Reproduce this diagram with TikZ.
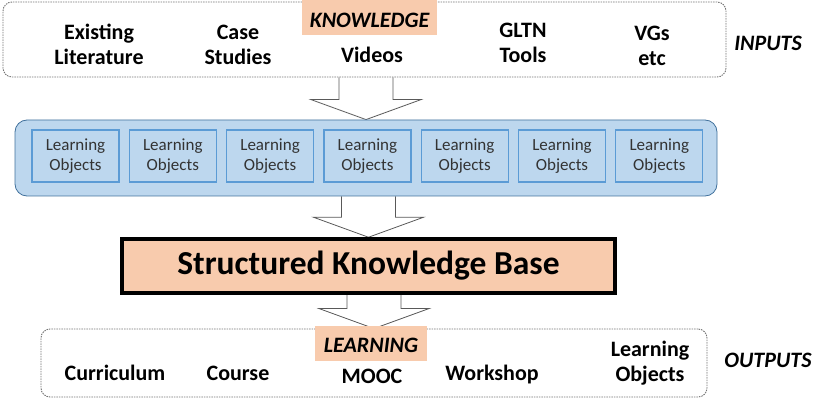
\documentclass[tikz,border=0pt]{standalone}
\usepackage{fontspec}
\setmainfont{Carlito}
\usepackage{tikz}
\usetikzlibrary{positioning, calc, backgrounds}
\definecolor{colorTag}{HTML}{F8CBAD}
\definecolor{colorPanel}{HTML}{BDD7EE}
\definecolor{colorPanelEdge}{HTML}{41719C}
\definecolor{colorObject}{HTML}{5B9BD5}
\definecolor{colorArrow}{HTML}{595959}
\tikzset{fat arrow/.style={draw=colorArrow, fill=white, line width=0.8pt}}
\newcommand{\fatarrow}[2]{%
  \begin{scope}[on background layer]
  \draw[fat arrow] ($(#2.north |- #1.south)+(-27,0)$) -- ($(#2.north)+(-27,-20)$) -- ($(#2.north)+(-55,-20)$) -- (#2.north) -- ($(#2.north)+(55,-20)$) -- ($(#2.north)+(27,-20)$) -- ($(#2.north |- #1.south)+(27,0)$);
  \end{scope}}

\begin{document}
\begin{tikzpicture}[x=1pt, y=-1pt,
  every node/.style={font=\fontsize{22}{25}\selectfont\bfseries, align=center},
  frame/.style={draw=black!55, line width=0.9pt, dash pattern=on 1.5pt off 1pt, rounded corners=9pt},
  tag/.style={fill=colorTag, font=\fontsize{22}{24}\selectfont\bfseries\itshape, inner sep=0pt, text depth=0pt},
  item/.style={anchor=base},
  sidelabel/.style={anchor=base, font=\fontsize{22}{25}\selectfont\bfseries\itshape},
  panel/.style={draw=colorPanelEdge, fill=colorPanel, line width=0.8pt, rounded corners=12pt},
  object/.style={draw=colorObject, fill=colorPanel, line width=1.3pt, minimum width=87, minimum height=52, inner sep=0pt, text=black!80, font=\fontsize{17}{20}\selectfont},
  kbase/.style={draw=black, fill=colorTag, line width=3.5pt, minimum width=493, minimum height=54, font=\fontsize{33.5}{38}\selectfont\bfseries}]
\useasboundingbox (0,0) rectangle (816,398);

% inputs
\node[frame, minimum width=723, minimum height=75] (inputs) at (364.5,39.5) {};
\node[tag, minimum width=135, minimum height=35, text height=19.5pt] (knowledge) at (369.5,17.5) {KNOWLEDGE};
\node[item] (literature) at (99,65) {Existing\\Literature};
\node[item] (cases) at (238,65) {Case\\Studies};
\node[item] (videos) at (372,63) {Videos};
\node[item] (gltn) at (523,63) {GLTN\\Tools};
\node[item] (vgs) at (652,66) {VGs\\etc};
\node[sidelabel] (in) at (768,51) {INPUTS};

% learning objects
\node[panel, minimum width=702, minimum height=76] (objects) at (366,158) {};
\node[object] (lo1) at (75.5,156) {Learning\\Objects};
\foreach \i [count=\j from 2] in {1,...,6}
  \node[object, right=9pt of lo\i] (lo\j) {Learning\\Objects};

% knowledge base
\node[kbase] (skb) at (368.5,266) {Structured Knowledge Base};

% outputs
\node[frame, minimum width=666, minimum height=68] (outputs) at (374,363) {};
\node[tag, minimum width=112, minimum height=35, text height=18pt] (learning) at (371,343.5) {LEARNING};
\node[item] (curriculum) at (115,380) {Curriculum};
\node[item] (course) at (238,380) {Course};
\node[item] (mooc) at (372,383) {MOOC};
\node[item] (workshop) at (492,380) {Workshop};
\node[item] (lobjects) at (650,381) {Learning\\Objects};
\node[sidelabel] (out) at (768,367) {OUTPUTS};

\fatarrow{inputs}{objects}
\fatarrow{objects}{skb}
\fatarrow{skb}{outputs}
\end{tikzpicture}
\end{document}
